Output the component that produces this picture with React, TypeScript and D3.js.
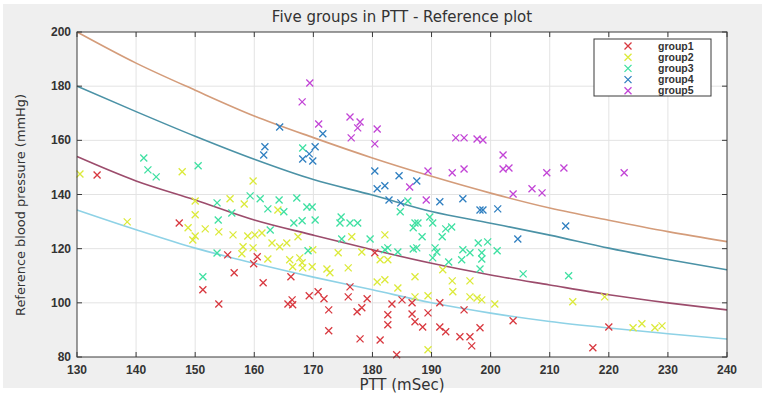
import React, { useRef, useEffect } from 'react';
import * as d3 from 'd3';

// PTT (mSec), reference blood pressure (mmHg)
const group1 = [
  [133.4, 147.2], [147.3, 129.5], [155.5, 117.7], [160.5, 117.0], [159.9, 114.4], [156.6, 111.1],
  [161.5, 107.4], [166.2, 109.6], [151.3, 104.8], [154.0, 99.6], [165.7, 99.6], [166.4, 101.1],
  [166.5, 99.3], [169.3, 102.6], [170.8, 104.1], [171.8, 101.5], [172.6, 97.4], [176.2, 105.9],
  [175.9, 102.2], [179.1, 101.5], [177.4, 96.7], [178.2, 98.2], [177.9, 86.7], [181.3, 86.3],
  [182.6, 95.6], [182.6, 91.9], [183.3, 99.6], [184.1, 80.8], [186.7, 100.0], [186.7, 95.9],
  [187.2, 93.0], [188.5, 91.1], [189.4, 96.3], [191.4, 100.0], [192.4, 89.3], [194.8, 87.5],
  [196.5, 87.5], [195.5, 97.4], [196.8, 84.1], [198.2, 90.8], [180.4, 118.5], [203.8, 93.4],
  [217.3, 83.4], [220.0, 91.1], [185.0, 101.1], [191.4, 91.1], [172.6, 89.7],
];

const group2 = [
  [130.5, 147.6], [138.5, 129.9], [147.8, 148.4], [159.8, 145.0], [150.0, 137.6], [150.0, 132.5],
  [148.8, 127.7], [150.0, 124.7], [149.6, 123.2], [151.7, 127.3], [154.0, 126.2], [156.4, 125.1],
  [155.9, 138.4], [158.3, 136.5], [158.9, 124.7], [160.1, 125.1], [161.3, 125.8], [158.1, 120.7],
  [159.8, 120.3], [157.9, 118.1], [162.3, 116.2], [163.0, 122.1], [164.3, 120.7], [165.5, 122.1],
  [166.0, 115.9], [167.7, 116.6], [167.4, 124.4], [164.0, 134.3], [166.5, 113.3], [168.2, 112.9],
  [169.8, 113.3], [169.9, 119.6], [174.2, 118.5], [178.2, 118.8], [172.3, 112.5], [172.8, 111.1],
  [175.9, 112.9], [181.3, 115.9], [182.6, 115.9], [180.8, 107.7], [182.1, 108.5], [187.2, 109.6],
  [184.3, 105.5], [187.2, 102.2], [189.4, 102.6], [193.5, 108.1], [196.5, 108.1], [193.6, 104.1],
  [196.5, 102.2], [197.7, 101.8], [200.7, 99.6], [198.5, 101.1], [191.9, 112.2], [189.4, 82.7],
  [182.1, 125.1], [176.5, 124.4], [213.9, 100.4], [219.3, 102.2], [224.1, 90.8], [225.6, 92.3],
  [227.8, 90.8], [229.0, 91.5], [168.1, 114.8],
];

const group3 = [
  [141.3, 153.5], [142.0, 149.1], [143.4, 146.5], [150.5, 150.6], [168.2, 157.2], [153.7, 136.9],
  [153.9, 130.6], [153.7, 118.4], [151.3, 109.6], [156.2, 133.2], [159.3, 139.5], [161.0, 138.4],
  [164.2, 138.0], [167.2, 138.7], [162.3, 134.7], [165.0, 133.6], [168.9, 135.4], [169.8, 135.4],
  [166.7, 129.5], [168.1, 130.3], [162.7, 126.9], [170.3, 130.6], [169.1, 119.2], [174.7, 131.7],
  [174.5, 129.5], [176.2, 129.5], [177.5, 129.5], [174.8, 123.6], [179.6, 123.6], [184.7, 133.6],
  [186.0, 137.6], [187.2, 129.5], [187.7, 129.5], [186.9, 127.7], [189.7, 131.7], [190.2, 129.5],
  [192.4, 127.3], [193.4, 128.0], [188.4, 124.4], [191.8, 124.4], [182.1, 119.6], [184.3, 118.8],
  [186.9, 119.9], [187.5, 120.3], [182.6, 120.3], [190.6, 120.3], [190.2, 116.6], [190.9, 118.8],
  [192.9, 115.1], [195.3, 119.6], [196.5, 118.5], [198.5, 118.5], [198.5, 116.2], [195.1, 115.9],
  [197.9, 122.1], [199.5, 122.5], [201.1, 119.2], [198.2, 112.5], [205.5, 110.7], [213.2, 110.0],
];

const group4 = [
  [164.3, 164.9], [161.8, 157.6], [161.6, 154.6], [171.6, 162.4], [170.3, 157.6], [169.3, 155.0],
  [168.2, 153.1], [169.9, 152.4], [180.4, 148.7], [184.5, 146.9], [187.5, 145.0], [180.8, 142.1],
  [182.1, 143.2], [182.8, 138.0], [184.8, 136.9], [191.4, 137.3], [195.3, 138.4], [198.2, 134.3],
  [198.7, 134.3], [201.2, 134.7], [204.6, 123.6], [212.7, 128.4],
];

const group5 = [
  [169.4, 181.2], [168.1, 174.2], [170.9, 166.0], [176.2, 168.6], [177.9, 166.8], [177.5, 164.6],
  [176.4, 160.9], [180.8, 164.2], [180.4, 158.7], [189.4, 148.7], [193.5, 148.0], [195.5, 149.4],
  [194.1, 160.9], [195.5, 160.9], [197.7, 160.5], [198.7, 160.1], [202.1, 154.6], [202.1, 149.4],
  [203.1, 149.8], [209.5, 148.0], [212.4, 149.8], [186.3, 142.8], [189.1, 138.0], [203.8, 140.2],
  [207.0, 142.1], [208.7, 140.6], [222.6, 148.0],
];

// reference curves, read at every 10 mSec
const curvePTT = [130, 140, 150, 160, 170, 180, 190, 200, 210, 220, 230, 240];
const curveTop = [200, 188.5, 178.5, 169, 161, 153.5, 146.7, 140.5, 135, 130.5, 126.3, 122.6];
const curveUpper = [180, 170.6, 161.5, 153, 145.5, 139.8, 133.7, 129.4, 125, 120.2, 116, 112.2];
const curveLower = [154, 145, 138, 130.6, 125, 119.6, 114.6, 110.3, 106.6, 103, 100, 97.4];
const curveBottom = [134.3, 127, 120.2, 114.6, 109.5, 104.8, 100, 96.2, 93.1, 90.7, 88.6, 86.6];

const xTicks = [130, 140, 150, 160, 170, 180, 190, 200, 210, 220, 230, 240];
const yTicks = [80, 100, 120, 140, 160, 180, 200];

const groups = [
  { name: 'group1', data: group1, color: '#d8383f' },
  { name: 'group2', data: group2, color: '#dcea3a' },
  { name: 'group3', data: group3, color: '#3fe0a2' },
  { name: 'group4', data: group4, color: '#2f7fc0' },
  { name: 'group5', data: group5, color: '#c244d6' },
];

const curves = [
  { values: curveTop, color: '#d49c7a' },
  { values: curveUpper, color: '#4b92a6' },
  { values: curveLower, color: '#9c4c6c' },
  { values: curveBottom, color: '#8ed2e6' },
];

export default function App() {
  const svgRef = useRef<SVGSVGElement>(null);

  useEffect(() => {
    if (!svgRef.current) return;
    document.body.style.margin = '0';

    const width = 765;
    const height = 400;
    const plot = { left: 77, right: 727, top: 32, bottom: 357 };
    const font = '"Liberation Sans", Arial, sans-serif';

    const svg = d3.select(svgRef.current)
      .attr('width', width)
      .attr('height', height)
      .attr('viewBox', `0 0 ${width} ${height}`)
      .style('display', 'block');

    svg.selectAll('*').remove();

    svg.append('rect').attr('width', width).attr('height', height).attr('fill', '#ffffff');
    svg.append('rect')
      .attr('x', 3).attr('y', 4).attr('width', width - 6).attr('height', 384)
      .attr('fill', '#efefef');

    const x = d3.scaleLinear().domain([130, 240]).range([plot.left, plot.right]);
    const y = d3.scaleLinear().domain([80, 200]).range([plot.bottom, plot.top]);

    svg.append('rect')
      .attr('x', plot.left).attr('y', plot.top)
      .attr('width', plot.right - plot.left).attr('height', plot.bottom - plot.top)
      .attr('fill', '#ffffff');

    // grid
    const grid = svg.append('g').attr('stroke', '#e3e3e3').attr('stroke-width', 1);
    xTicks.slice(1, -1).forEach(t => {
      grid.append('line').attr('x1', x(t)).attr('x2', x(t)).attr('y1', plot.top).attr('y2', plot.bottom);
    });
    yTicks.slice(1, -1).forEach(t => {
      grid.append('line').attr('x1', plot.left).attr('x2', plot.right).attr('y1', y(t)).attr('y2', y(t));
    });

    // curves
    const line = d3.line<number>()
      .x((_, i) => x(curvePTT[i]))
      .y(d => y(d))
      .curve(d3.curveMonotoneX);

    curves.forEach(c => {
      svg.append('path')
        .datum(c.values)
        .attr('fill', 'none')
        .attr('stroke', c.color)
        .attr('stroke-width', 1.6)
        .attr('d', line);
    });

    // markers
    const cross = 'M-3.5,-3.5L3.5,3.5M-3.5,3.5L3.5,-3.5';
    groups.forEach(g => {
      svg.append('g')
        .selectAll('path')
        .data(g.data)
        .join('path')
        .attr('transform', d => `translate(${x(d[0])},${y(d[1])})`)
        .attr('d', cross)
        .attr('fill', 'none')
        .attr('stroke', g.color)
        .attr('stroke-width', 1.3);
    });

    // axes box and inward ticks
    const axis = svg.append('g').attr('stroke', '#3a3a3a').attr('stroke-width', 1);
    axis.append('rect')
      .attr('x', plot.left).attr('y', plot.top)
      .attr('width', plot.right - plot.left).attr('height', plot.bottom - plot.top)
      .attr('fill', 'none');
    xTicks.forEach(t => {
      axis.append('line').attr('x1', x(t)).attr('x2', x(t)).attr('y1', plot.bottom).attr('y2', plot.bottom - 5);
      axis.append('line').attr('x1', x(t)).attr('x2', x(t)).attr('y1', plot.top).attr('y2', plot.top + 5);
    });
    yTicks.forEach(t => {
      axis.append('line').attr('x1', plot.left).attr('x2', plot.left + 5).attr('y1', y(t)).attr('y2', y(t));
      axis.append('line').attr('x1', plot.right).attr('x2', plot.right - 5).attr('y1', y(t)).attr('y2', y(t));
    });

    // tick labels
    svg.append('g')
      .selectAll('text')
      .data(xTicks)
      .join('text')
      .attr('x', d => x(d))
      .attr('y', plot.bottom + 17)
      .attr('text-anchor', 'middle')
      .attr('font-family', font)
      .attr('font-size', 12)
      .attr('font-weight', 'bold')
      .attr('fill', '#333')
      .text(d => d);

    svg.append('g')
      .selectAll('text')
      .data(yTicks)
      .join('text')
      .attr('x', plot.left - 6)
      .attr('y', d => y(d) + 4)
      .attr('text-anchor', 'end')
      .attr('font-family', font)
      .attr('font-size', 12)
      .attr('font-weight', 'bold')
      .attr('fill', '#333')
      .text(d => d);

    // title and axis labels
    svg.append('text')
      .attr('x', (plot.left + plot.right) / 2)
      .attr('y', 22)
      .attr('text-anchor', 'middle')
      .attr('font-family', '"DejaVu Sans", sans-serif')
      .attr('font-size', 15)
      .attr('fill', '#333')
      .text('Five groups in PTT - Reference plot');

    svg.append('text')
      .attr('x', (plot.left + plot.right) / 2)
      .attr('y', 390)
      .attr('text-anchor', 'middle')
      .attr('font-family', '"DejaVu Sans", sans-serif')
      .attr('font-size', 15)
      .attr('fill', '#333')
      .text('PTT (mSec)');

    svg.append('text')
      .attr('transform', 'translate(25,205) rotate(-90)')
      .attr('text-anchor', 'middle')
      .attr('font-family', '"DejaVu Sans", sans-serif')
      .attr('font-size', 13)
      .attr('textLength', 222)
      .attr('lengthAdjust', 'spacingAndGlyphs')
      .attr('fill', '#333')
      .text('Reference blood pressure (mmHg)');

    // legend
    const lg = svg.append('g');
    lg.append('rect')
      .attr('x', 594).attr('y', 39).attr('width', 117).attr('height', 57)
      .attr('fill', '#ffffff').attr('stroke', '#3a3a3a').attr('stroke-width', 1);
    groups.forEach((g, i) => {
      const ly = 46 + i * 11.2;
      lg.append('path')
        .attr('transform', `translate(628,${ly})`)
        .attr('d', cross)
        .attr('fill', 'none')
        .attr('stroke', g.color)
        .attr('stroke-width', 1.3);
      lg.append('text')
        .attr('x', 658).attr('y', ly + 3.5)
        .attr('font-family', font)
        .attr('font-size', 10.5)
        .attr('font-weight', 'bold')
        .attr('fill', '#333')
        .text(g.name);
    });
  }, []);

  return <svg ref={svgRef} />;
}
